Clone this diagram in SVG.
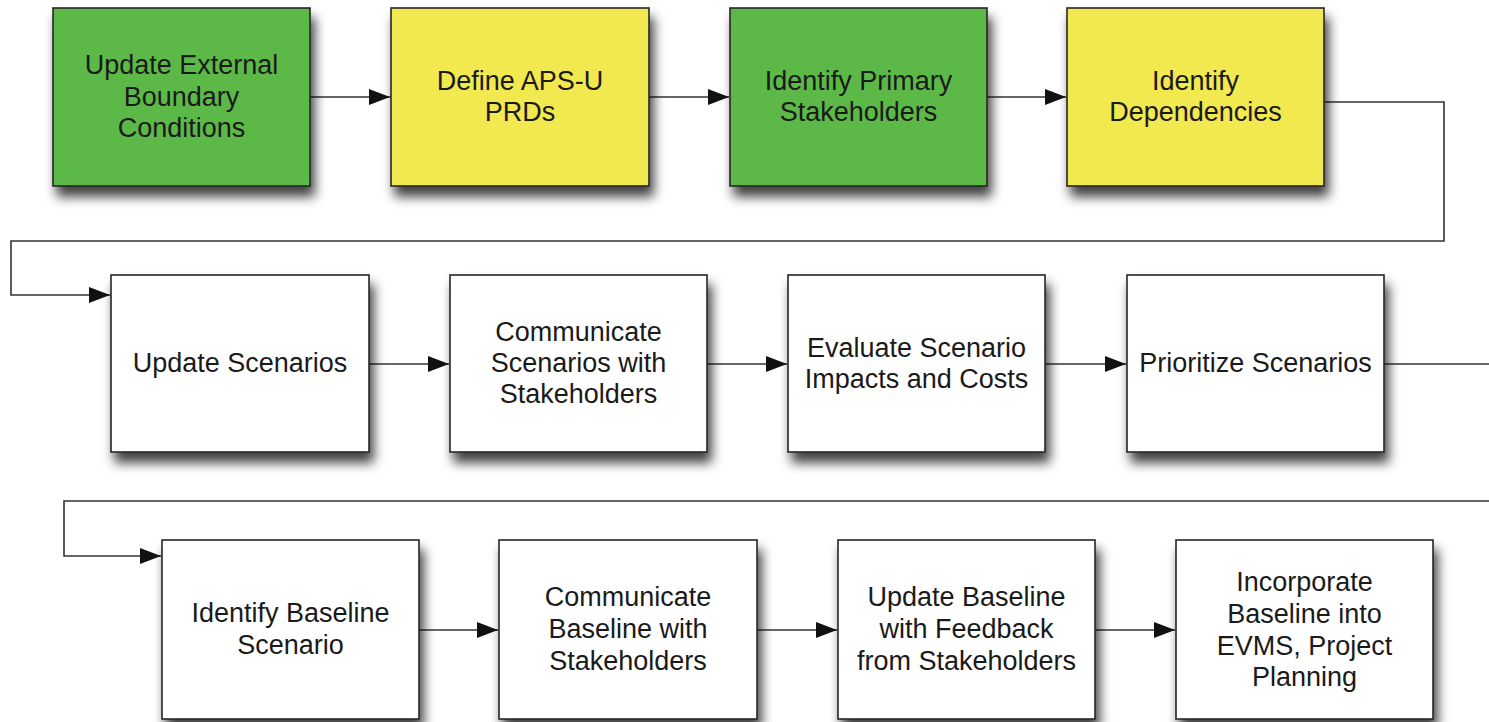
<svg xmlns="http://www.w3.org/2000/svg" width="1489" height="722" viewBox="0 0 1489 722">
<style>
.box{stroke:#262626;stroke-width:1.6;filter:url(#sh)}
.g{fill:#5cb946}.y{fill:#f2e84f}.w{fill:#ffffff}
.t{font-family:"Liberation Sans",Arial,sans-serif;font-size:27px;fill:#1a1a1a;text-anchor:middle}
.c{fill:none;stroke:#333;stroke-width:1.6}
</style>
<defs>
<filter id="sh" x="-20%" y="-20%" width="150%" height="160%">
<feDropShadow dx="4" dy="10" stdDeviation="6" flood-color="#000" flood-opacity="0.75"/>
</filter>
<marker id="ar" markerUnits="userSpaceOnUse" markerWidth="22" markerHeight="18" refX="21" refY="8" orient="auto">
<path d="M0,0 L21,8 L0,16 z" fill="#111"/>
</marker>
</defs>
<rect width="1489" height="722" fill="#fff"/>
<g id="connectors">
<path class="c" d="M310,97 H390" marker-end="url(#ar)"/>
<path class="c" d="M649,97 H729" marker-end="url(#ar)"/>
<path class="c" d="M987,97 H1066" marker-end="url(#ar)"/>
<path class="c" d="M1324,102 H1444 V241 H11 V295 H110" marker-end="url(#ar)"/>
<path class="c" d="M369,364 H449" marker-end="url(#ar)"/>
<path class="c" d="M707,364 H787" marker-end="url(#ar)"/>
<path class="c" d="M1045,364 H1126" marker-end="url(#ar)"/>
<path class="c" d="M1384,364 H1489"/>
<path class="c" d="M1489,501 H64 V556 H161" marker-end="url(#ar)"/>
<path class="c" d="M419,630 H498" marker-end="url(#ar)"/>
<path class="c" d="M757,630 H837" marker-end="url(#ar)"/>
<path class="c" d="M1095,630 H1175" marker-end="url(#ar)"/>
</g>
<g id="n1"><rect class="box g" x="53" y="8" width="257" height="178"/>
<text class="t" x="181.5"><tspan x="181.5" y="74">Update External</tspan><tspan x="181.5" y="106">Boundary</tspan><tspan x="181.5" y="137">Conditions</tspan></text></g>
<g id="n2"><rect class="box y" x="391" y="8" width="258" height="178"/>
<text class="t"><tspan x="520" y="90">Define APS-U</tspan><tspan x="520" y="121">PRDs</tspan></text></g>
<g id="n3"><rect class="box g" x="730" y="8" width="257" height="178"/>
<text class="t"><tspan x="858.5" y="90">Identify Primary</tspan><tspan x="858.5" y="121">Stakeholders</tspan></text></g>
<g id="n4"><rect class="box y" x="1067" y="8" width="257" height="178"/>
<text class="t"><tspan x="1195.5" y="90">Identify</tspan><tspan x="1195.5" y="121">Dependencies</tspan></text></g>
<g id="n5"><rect class="box w" x="111" y="275" width="258" height="177"/>
<text class="t"><tspan x="240" y="372">Update Scenarios</tspan></text></g>
<g id="n6"><rect class="box w" x="450" y="275" width="257" height="177"/>
<text class="t"><tspan x="578.5" y="341">Communicate</tspan><tspan x="578.5" y="372">Scenarios with</tspan><tspan x="578.5" y="403">Stakeholders</tspan></text></g>
<g id="n7"><rect class="box w" x="788" y="275" width="257" height="177"/>
<text class="t"><tspan x="916.5" y="357">Evaluate Scenario</tspan><tspan x="916.5" y="388">Impacts and Costs</tspan></text></g>
<g id="n8"><rect class="box w" x="1127" y="275" width="257" height="177"/>
<text class="t"><tspan x="1255.5" y="372">Prioritize Scenarios</tspan></text></g>
<g id="n9"><rect class="box w" x="162" y="540" width="257" height="179"/>
<text class="t"><tspan x="290.5" y="622">Identify Baseline</tspan><tspan x="290.5" y="654">Scenario</tspan></text></g>
<g id="n10"><rect class="box w" x="499" y="540" width="258" height="179"/>
<text class="t"><tspan x="628" y="606">Communicate</tspan><tspan x="628" y="638">Baseline with</tspan><tspan x="628" y="670">Stakeholders</tspan></text></g>
<g id="n11"><rect class="box w" x="838" y="540" width="257" height="179"/>
<text class="t"><tspan x="966.5" y="606">Update Baseline</tspan><tspan x="966.5" y="638">with Feedback</tspan><tspan x="966.5" y="670">from Stakeholders</tspan></text></g>
<g id="n12"><rect class="box w" x="1176" y="540" width="257" height="179"/>
<text class="t"><tspan x="1304.5" y="591">Incorporate</tspan><tspan x="1304.5" y="623">Baseline into</tspan><tspan x="1304.5" y="655">EVMS, Project</tspan><tspan x="1304.5" y="686">Planning</tspan></text></g>
</svg>
